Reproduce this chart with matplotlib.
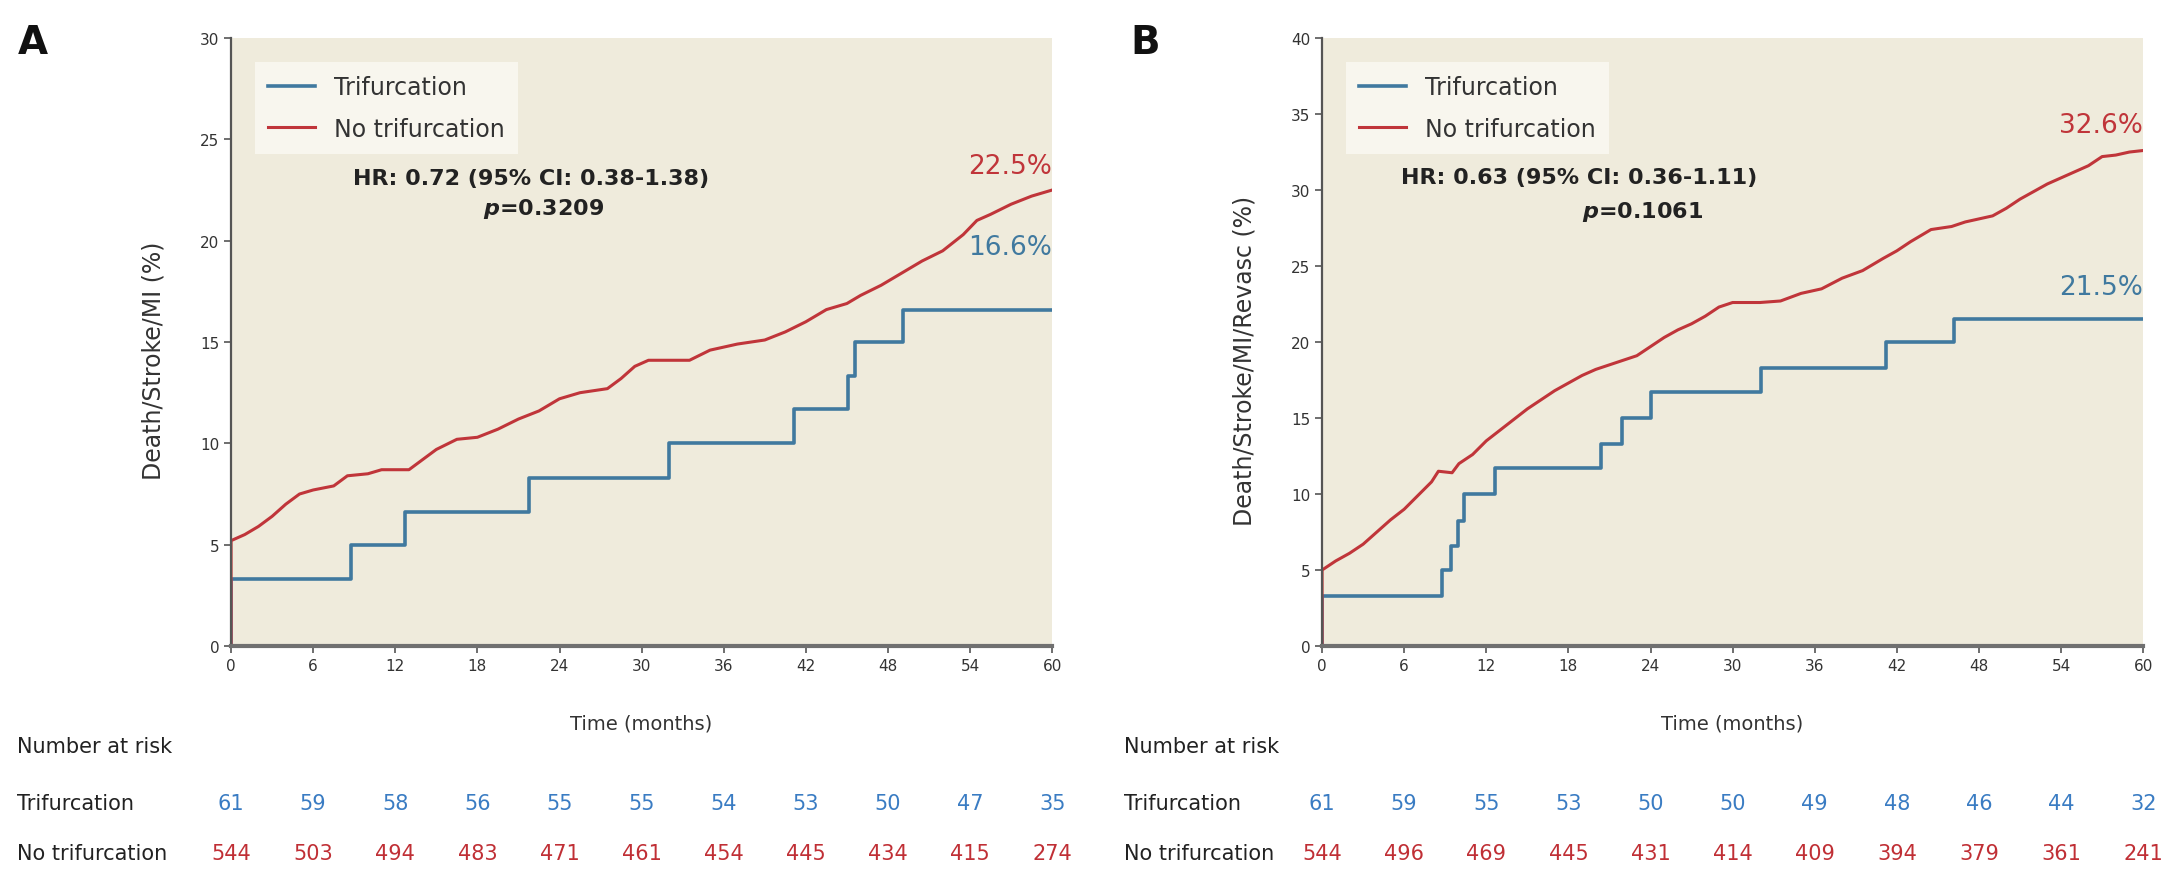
import matplotlib
matplotlib.use("Agg")
import matplotlib.pyplot as plt
import matplotlib.transforms as mtransforms

plt.rcParams['font.family'] = ['DejaVu Sans']
plt.rcParams['mathtext.fontset'] = 'custom'
plt.rcParams['mathtext.it'] = 'DejaVu Sans:italic:bold'
plt.rcParams['mathtext.rm'] = 'DejaVu Sans:bold'

BLUE = '#40799f'
RED = '#c0353a'
TXT_BLUE = '#3a7cc3'
TXT_RED = '#c02f35'
BG = '#efebdc'

# ---- data ----
risk_times = [0, 6, 12, 18, 24, 30, 36, 42, 48, 54, 60]

# Panel A: Death/Stroke/MI
a_tri_t = [0, 0, 8.8, 12.7, 21.8, 32.0, 41.1, 45.1, 45.6, 49.1, 60]
a_tri_y = [0, 3.3, 5.0, 6.6, 8.3, 10.0, 11.7, 13.3, 15.0, 16.6, 16.6]
a_no_t = [0, 0, 1, 2, 3, 4, 5, 6, 7.5, 8.5, 10, 11, 13, 14, 15, 16.5, 18, 19.5,
          21, 22.5, 24, 25.5, 27.5, 28.5, 29.5, 30.5, 33.5, 35, 37, 39, 40.5,
          42, 43.5, 45, 46, 47.5, 49, 50.5, 52, 53.5, 54.5, 55.5, 57, 58.5, 60]
a_no_y = [0, 5.2, 5.5, 5.9, 6.4, 7.0, 7.5, 7.7, 7.9, 8.4, 8.5, 8.7, 8.7, 9.2,
          9.7, 10.2, 10.3, 10.7, 11.2, 11.6, 12.2, 12.5, 12.7, 13.2, 13.8, 14.1,
          14.1, 14.6, 14.9, 15.1, 15.5, 16.0, 16.6, 16.9, 17.3, 17.8, 18.4, 19.0,
          19.5, 20.3, 21.0, 21.3, 21.8, 22.2, 22.5]
a_risk_tri = [61, 59, 58, 56, 55, 55, 54, 53, 50, 47, 35]
a_risk_no = [544, 503, 494, 483, 471, 461, 454, 445, 434, 415, 274]

# Panel B: Death/Stroke/MI/Revasc
b_tri_t = [0, 0, 8.8, 9.4, 9.9, 10.4, 12.6, 20.4, 21.9, 24.0, 32.1, 41.2, 46.2, 60]
b_tri_y = [0, 3.3, 5.0, 6.6, 8.2, 10.0, 11.7, 13.3, 15.0, 16.7, 18.3, 20.0, 21.5, 21.5]
b_no_t = [0, 0, 1, 2, 3, 4, 5, 6, 7, 8, 8.5, 9.5, 10, 11, 12, 13, 14, 15, 16,
          17, 18, 19, 20, 21, 22, 23, 24, 25, 26, 27, 28, 29, 30, 32, 33.5, 35,
          36.5, 38, 39.5, 41, 42, 43, 44.5, 46, 47, 49, 50, 51, 52, 53, 54, 55,
          56, 57, 58, 59, 60]
b_no_y = [0, 5.0, 5.6, 6.1, 6.7, 7.5, 8.3, 9.0, 9.9, 10.8, 11.5, 11.4, 12.0,
          12.6, 13.5, 14.2, 14.9, 15.6, 16.2, 16.8, 17.3, 17.8, 18.2, 18.5, 18.8,
          19.1, 19.7, 20.3, 20.8, 21.2, 21.7, 22.3, 22.6, 22.6, 22.7, 23.2, 23.5,
          24.2, 24.7, 25.5, 26.0, 26.6, 27.4, 27.6, 27.9, 28.3, 28.8, 29.4, 29.9,
          30.4, 30.8, 31.2, 31.6, 32.2, 32.3, 32.5, 32.6]
b_risk_tri = [61, 59, 55, 53, 50, 50, 49, 48, 46, 44, 32]
b_risk_no = [544, 496, 469, 445, 431, 414, 409, 394, 379, 361, 241]


def km_panel(ax, letter, ylabel, ymax, tri_t, tri_y, no_t, no_y,
             hr_text, hr_xy, p_text, p_xy, end_tri, end_no, risk_tri, risk_no,
             row_label_x, letter_x):
    ax.set_facecolor(BG)
    ax.plot(tri_t, tri_y, drawstyle='steps-post', color=BLUE, lw=2.6,
            label='Trifurcation')
    ax.plot(no_t, no_y, color=RED, lw=2.2, label='No trifurcation')
    ax.set_xlim(0, 60)
    ax.set_ylim(0, ymax)
    ax.set_xticks(risk_times)
    ax.set_yticks(range(0, ymax + 1, 5))
    for s in ['top', 'right']:
        ax.spines[s].set_visible(False)
    ax.spines['left'].set_color('#555555')
    ax.spines['left'].set_linewidth(1.6)
    ax.spines['bottom'].set_color('#707070')
    ax.spines['bottom'].set_linewidth(3)
    ax.tick_params(direction='out', length=5, width=1.2, color='#555555',
                   labelsize=11, labelcolor='#333333')
    ax.set_ylabel(ylabel, fontsize=17, color='#333333')
    ax.yaxis.set_label_coords(-0.08, 0.47)

    leg = ax.legend(loc='upper left', bbox_to_anchor=(0.015, 0.98),
                    fontsize=17, frameon=True, fancybox=False,
                    handlelength=2.0, borderpad=0.55, labelspacing=0.75)
    leg.get_frame().set_facecolor('#f8f6ee')
    leg.get_frame().set_edgecolor('none')
    leg.get_frame().set_alpha(1)
    for t in leg.get_texts():
        t.set_color('#333333')

    ax.text(hr_xy[0], hr_xy[1], hr_text, ha='center', va='center',
            fontsize=16, fontweight='bold', color='#222222')
    ax.text(p_xy[0], p_xy[1], p_text, ha='center', va='center',
            fontsize=16, fontweight='bold', color='#222222')

    ax.text(60, end_no[1], end_no[0], ha='right', va='center',
            fontsize=19, color=RED)
    ax.text(60, end_tri[1], end_tri[0], ha='right', va='center',
            fontsize=19, color=BLUE)

    trans = mtransforms.blended_transform_factory(ax.transData, ax.transAxes)
    ax.text(30, -0.127, 'Time (months)', transform=trans, ha='center',
            va='center', fontsize=14, color='#333333')
    ax.text(row_label_x, -0.165, 'Number at risk', transform=ax.transAxes,
            ha='left', va='center', fontsize=15, color='#222222')
    ax.text(row_label_x, -0.258, 'Trifurcation', transform=ax.transAxes,
            ha='left', va='center', fontsize=15, color='#222222')
    ax.text(row_label_x, -0.340, 'No trifurcation', transform=ax.transAxes,
            ha='left', va='center', fontsize=15, color='#222222')
    for t, n1, n2 in zip(risk_times, risk_tri, risk_no):
        ax.text(t, -0.258, str(n1), transform=trans, ha='center',
                va='center', fontsize=15, color=TXT_BLUE)
        ax.text(t, -0.340, str(n2), transform=trans, ha='center',
                va='center', fontsize=15, color=TXT_RED)

    ax.text(letter_x, 1.025, letter, transform=ax.transAxes, ha='left',
            va='top', fontsize=28, fontweight='bold', color='#111111')


fig = plt.figure(figsize=(21.82, 8.79), dpi=100)
ax1 = fig.add_axes([0.1059, 0.2639, 0.3763, 0.6917])
ax2 = fig.add_axes([0.6059, 0.2639, 0.3763, 0.6917])

km_panel(ax1, 'A', 'Death/Stroke/MI (%)', 30, a_tri_t, a_tri_y, a_no_t, a_no_y,
         'HR: 0.72 (95% CI: 0.38-1.38)', (21.9, 23.1),
         r'$p$=0.3209', (22.8, 21.6),
         ('16.6%', 19.7), ('22.5%', 23.7), a_risk_tri, a_risk_no,
         -0.2607, -0.26)
km_panel(ax2, 'B', 'Death/Stroke/MI/Revasc (%)', 40, b_tri_t, b_tri_y, b_no_t,
         b_no_y, 'HR: 0.63 (95% CI: 0.36-1.11)', (18.8, 30.85),
         r'$p$=0.1061', (23.4, 28.65),
         ('21.5%', 23.6), ('32.6%', 34.3), b_risk_tri, b_risk_no,
         -0.241, -0.234)

fig.savefig('out.png', dpi=100, facecolor='white')
